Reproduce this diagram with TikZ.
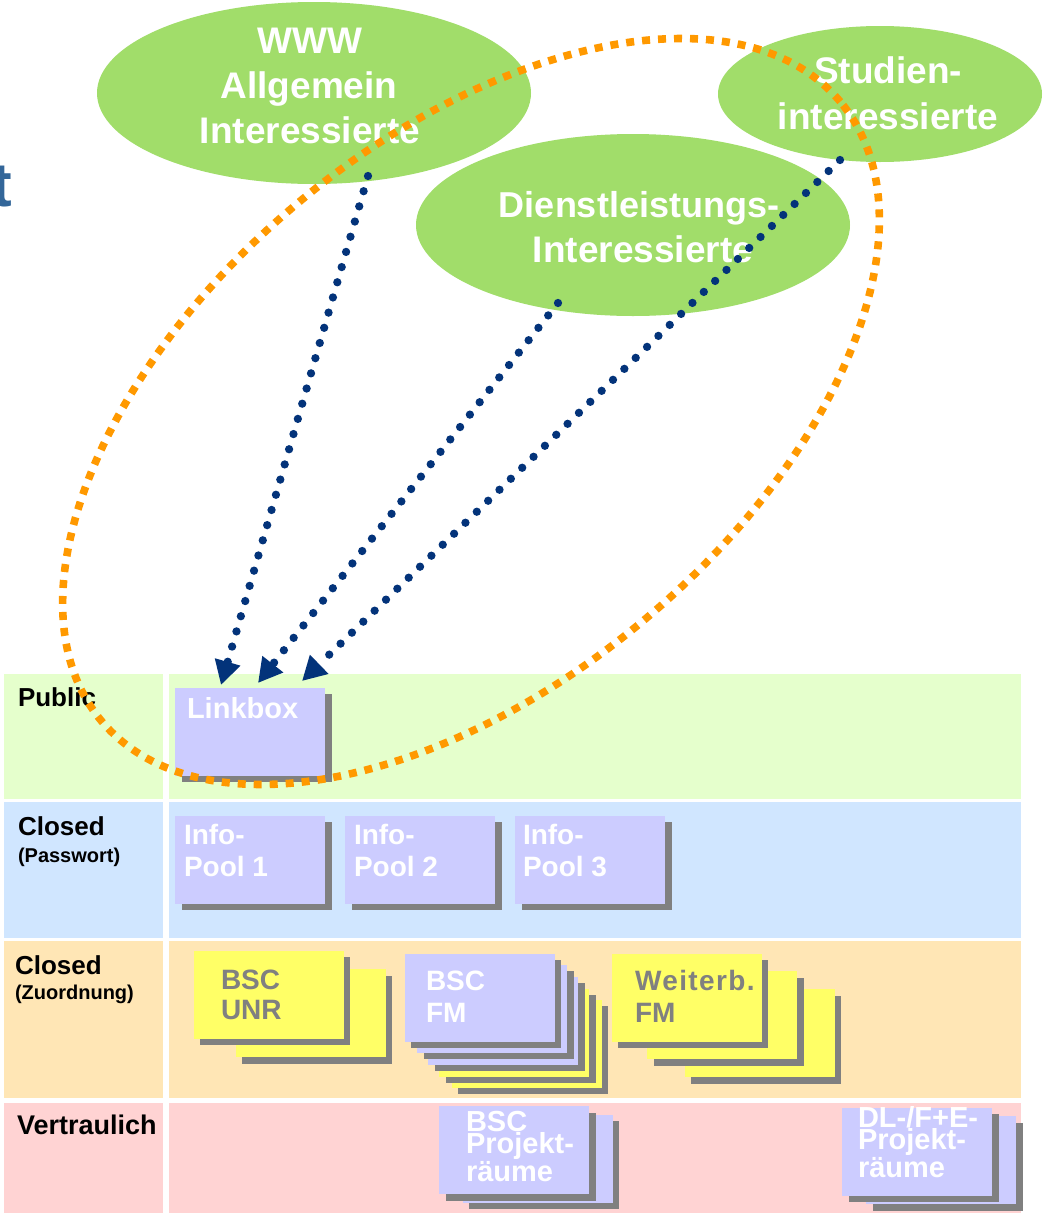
\documentclass[tikz,border=0pt]{standalone}
\usepackage{fontspec}
\setmainfont{Liberation Sans}
\usetikzlibrary{shapes.geometric,arrows.meta}
\definecolor{cPublic}{HTML}{E5FFCC}
\definecolor{cClosedA}{HTML}{D0E6FF}
\definecolor{cClosedB}{HTML}{FFE6B5}
\definecolor{cConf}{HTML}{FFD3D3}
\definecolor{cLilac}{HTML}{CCCCFF}
\definecolor{cYellow}{HTML}{FFFF66}
\definecolor{cShadow}{HTML}{808080}
\definecolor{cNavy}{HTML}{03337A}
\definecolor{cOrange}{HTML}{FF9900}
\definecolor{cGreen}{HTML}{A1DD6A}
\definecolor{cTitle}{HTML}{336699}
\tikzset{
  cell/.style={fill=#1,draw=none},
  txt/.style={inner sep=0pt,outer sep=0pt,anchor=base west,align=left},
  rowlabel/.style={txt,font=\bfseries\fontsize{26}{30}\selectfont,text=black},
  rowsub/.style={txt,font=\bfseries\fontsize{#1}{22}\selectfont,text=black},
  boxtext/.style={txt,font=\bfseries\fontsize{28}{32}\selectfont,text=white},
  tightwhite/.style={txt,font=\bfseries\fontsize{29}{22.5}\selectfont,text=white},
  ell/.style={ellipse,fill=cGreen,draw=none,inner sep=0pt,minimum width=#1},
  elltext/.style={inner sep=0pt,outer sep=0pt,anchor=base,font=\bfseries\fontsize{37}{45}\selectfont,text=white},
  orangering/.style={draw=cOrange,line width=7.6pt,dash pattern=on 8pt off 8pt},
  visit/.style={draw=cNavy,line width=8.3pt,line cap=round,dash pattern=on 0pt off 15.8pt,
     -{Triangle[length=24pt,width=25pt,fill=cNavy]}},
}
% x1 y1 x2 y2 colour dx dy
\newcommand{\shadowbox}[7]{%
  \fill[cShadow] (#1+#6,#2+#7) rectangle (#3+#6,#4+#7);
  \fill[#5] (#1,#2) rectangle (#3,#4);}
\begin{document}
\begin{tikzpicture}[x=1pt,y=-1pt]
\useasboundingbox (0,0) rectangle (1044,1213);
\fill[white] (0,0) rectangle (1044,1213);
% cut-off title letter
\node[inner sep=0pt,anchor=base east,font=\bfseries\fontsize{62}{62}\selectfont,text=cTitle] (titleT) at (12,206) {t};
% rows
\fill[cell=cPublic] (4,674) rectangle (163,799);
\fill[cell=cPublic] (169,674) rectangle (1021,799);
\fill[cell=cClosedA] (4,802) rectangle (163,938);
\fill[cell=cClosedA] (169,802) rectangle (1021,938);
\fill[cell=cClosedB] (4,941) rectangle (163,1098);
\fill[cell=cClosedB] (169,941) rectangle (1021,1098);
\fill[cell=cConf] (4,1103) rectangle (163,1213);
\fill[cell=cConf] (169,1103) rectangle (1021,1213);
% row labels
\node[rowlabel] (lPublic) at (18,706) {Public};
\node[rowlabel] (lClosedA) at (18,835) {Closed};
\node[rowsub=20] (lPass) at (18,862) {(Passwort)};
\node[rowlabel] (lClosedB) at (15,974) {Closed};
\node[rowsub=20] (lZuord) at (15,999) {(Zuordnung)};
\node[rowlabel,font=\bfseries\fontsize{27}{30}\selectfont] (lConf) at (17,1134) {Vertraulich};
% Public and closed boxes
\shadowbox{175}{688}{325}{776}{cLilac}{7}{6}
\node[boxtext,font=\bfseries\fontsize{29}{32}\selectfont] (tLink) at (187,718) {Linkbox};
\shadowbox{175}{816}{325}{904}{cLilac}{7}{6}
\shadowbox{345}{816}{495}{904}{cLilac}{7}{6}
\shadowbox{515}{816}{665}{904}{cLilac}{7}{6}
\node[boxtext] (tI1) at (184,876) {Info-\\Pool 1};
\node[boxtext] (tI2) at (354,876) {Info-\\Pool 2};
\node[boxtext] (tI3) at (523,876) {Info-\\Pool 3};
% BSC UNR
\shadowbox{236}{969}{386}{1057}{cYellow}{6}{7}
\shadowbox{194}{951}{344}{1039}{cYellow}{6}{6}
\node[boxtext,text=cShadow,font=\bfseries\fontsize{28}{30}\selectfont] (tUNR) at (221,1019) {BSC\\UNR};
% BSC FM stack
\shadowbox{452}{1000}{602}{1088}{cYellow}{6}{6}
\shadowbox{439}{989}{589}{1077}{cYellow}{7}{6}
\shadowbox{428}{977}{578}{1065}{cLilac}{7}{6}
\shadowbox{417}{965}{567}{1053}{cLilac}{7}{6}
\shadowbox{405}{954}{555}{1042}{cLilac}{6}{6}
\node[boxtext] (tFM) at (426,1022) {BSC\\FM};
% Weiterb. FM
\shadowbox{685}{989}{835}{1077}{cYellow}{6}{7}
\shadowbox{647}{971}{797}{1059}{cYellow}{7}{7}
\shadowbox{612}{954}{762}{1042}{cYellow}{6}{6}
\node[boxtext,text=cShadow] (tWB) at (635,1022) {\addfontfeature{LetterSpace=5}Weiterb.\\FM};
% Vertraulich boxes
\shadowbox{463}{1115}{613}{1203}{cLilac}{6}{6}
\shadowbox{439}{1106}{589}{1194}{cLilac}{7}{7}
\node[tightwhite] (tBP) at (466,1181) {BSC\\Projekt-\\räume};
\shadowbox{866}{1116}{1016}{1204}{cLilac}{7}{7}
\shadowbox{842}{1108}{992}{1196}{cLilac}{7}{6}
\node[tightwhite] (tDL) at (858,1177) {DL-/F+E-\\Projekt-\\räume};
% audience ellipses
\node[ell=434pt,minimum height=182pt] (www) at (314,93) {};
\node[ell=434pt,minimum height=182pt] (dl) at (633,225) {};
\node[ell=324pt,minimum height=136pt] (si) at (880,94) {};
\node[elltext] (tW1) at (310,53) {WWW};
\node[elltext] (tW2) at (309,98) {Allgemein};
\node[elltext] (tW3) at (310,143) {Interessierte};
\node[elltext,font=\bfseries\fontsize{36}{45}\selectfont] (tD1) at (639,217) {Dienstleistungs-};
\node[elltext] (tD2) at (643,262) {Interessierte};
\node[elltext] (tS1) at (888,83) {Studien-};
\node[elltext] (tS2) at (888,129) {interessierte};
% orange ring
\coordinate (ringC) at (471,411.5);
\draw[orangering,shift={(ringC)},rotate=40] (0,0) ellipse [x radius=482pt,y radius=271pt];
% arrows
\coordinate (fromW) at (368,176);
\coordinate (fromD) at (558,303);
\coordinate (fromS) at (840,160);
\coordinate (toW) at (221,685);
\coordinate (toD) at (258,683);
\coordinate (toS) at (302,681);
\draw[visit] (fromW) -- (toW);
\draw[visit] (fromD) -- (toD);
\draw[visit] (fromS) -- (toS);
\end{tikzpicture}
\end{document}
